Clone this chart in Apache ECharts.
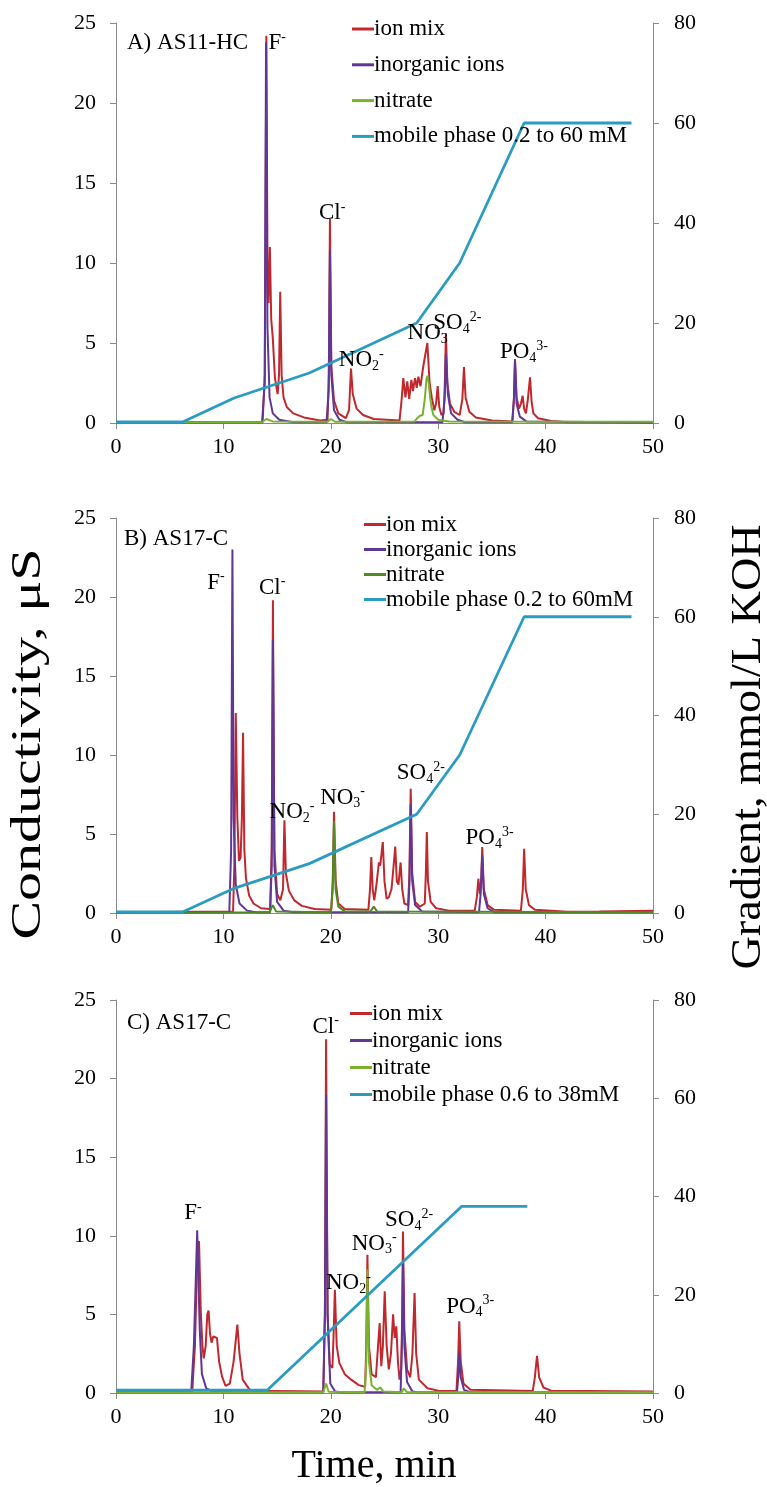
<!DOCTYPE html>
<html>
<head>
<meta charset="utf-8">
<script src="https://cdn.jsdelivr.net/npm/echarts@6/dist/echarts.min.js"></script>
<style>
  html, body { margin: 0; padding: 0; background: #fff; }
  #chart { width: 767px; height: 1487px; }
</style>
</head>
<body>
<div id="chart"></div>
<script>
// ---- panel A: AS11-HC ----
const ionMixA = [[0,0.05],[13.6,0.05],[13.85,2.5],[14.0,24.2],[14.12,8],[14.2,7.5],[14.33,11.0],[14.45,6.5],[14.6,5.3],[14.8,2.8],[15.05,1.8],[15.18,3],[15.29,8.2],[15.42,3],[15.6,1.6],[15.9,1.0],[16.5,0.6],[17.5,0.35],[19.0,0.15],[19.7,0.2],[19.82,3],[19.92,12.75],[20.05,3.5],[20.3,1.4],[20.7,0.6],[21.4,0.3],[21.7,0.8],[21.88,3.4],[22.05,1.8],[22.4,0.9],[23,0.5],[24,0.25],[26.4,0.15],[26.6,1.5],[26.75,2.8],[26.95,1.6],[27.12,2.6],[27.3,1.5],[27.5,2.7],[27.65,2.0],[27.84,2.8],[28.0,2.2],[28.15,2.9],[28.35,2.3],[28.6,3.5],[28.99,5.0],[29.2,2.5],[29.4,1.6],[29.64,0.8],[29.8,1.2],[29.95,2.3],[30.1,1.0],[30.3,0.5],[30.5,0.6],[30.6,2],[30.72,5.6],[30.85,2.5],[31.1,1.2],[31.5,0.7],[32.0,0.5],[32.25,1.5],[32.4,3.5],[32.55,1.6],[32.9,0.7],[33.5,0.35],[35,0.15],[36.9,0.1],[37.05,1.5],[37.15,4.0],[37.3,1.6],[37.52,0.9],[37.7,1.2],[37.86,1.7],[38.0,0.9],[38.17,0.6],[38.35,1.5],[38.55,2.86],[38.7,1.3],[38.86,0.6],[39.3,0.3],[40.5,0.12],[42,0.05],[50,0.05]];
const inorgA = [[0,0.03],[13.65,0.05],[13.85,3],[13.97,23.8],[14.1,6],[14.3,1.6],[14.6,0.6],[15.2,0.2],[16.5,0.05],[19.6,0.05],[19.8,2],[19.92,10.8],[20.05,3],[20.3,0.8],[20.8,0.2],[21.5,0.05],[30.4,0.05],[30.6,1.5],[30.72,4.3],[30.9,1.8],[31.2,0.6],[31.8,0.2],[32.5,0.05],[36.9,0.05],[37.05,1.5],[37.15,3.9],[37.3,1.2],[37.6,0.4],[38.2,0.1],[50,0.03]];
const nitrateA = [[0,0.05],[13.6,0.05],[14.0,0.25],[14.6,0.1],[19.7,0.08],[20.0,0.25],[20.4,0.08],[27.8,0.1],[28.05,0.3],[28.3,0.45],[28.55,0.5],[28.75,1.5],[28.9,2.7],[29.0,2.95],[29.12,2.5],[29.25,1.6],[29.4,0.9],[29.55,0.5],[30,0.2],[31,0.1],[50,0.08]];
const mobileA = [[0,0.2],[6.2,0.2],[11,5],[18,10],[28,20],[32,32],[38,60],[48,60]];
const peaksA = [[14.15,23.75,'F{sup|-}'],[18.85,13.1,'Cl{sup|-}'],[20.7,3.94,'NO{sub|2}{sup|-}'],[27.1,5.6,'NO{sub|3}{sup|-}'],[29.5,6.25,'SO{sub|4}{sup|2-}'],[35.7,4.44,'PO{sub|4}{sup|3-}']];

// ---- panel B: AS17-C ----
const ionMixB = [[0,0.05],[10.9,0.1],[11.02,3],[11.15,12.66],[11.3,6],[11.45,3.3],[11.6,3.5],[11.72,6],[11.83,11.4],[11.95,4],[12.1,2.2],[12.4,1.1],[12.8,0.6],[13.5,0.3],[14.35,0.25],[14.5,4],[14.61,19.8],[14.75,4],[15.0,1.2],[15.3,0.8],[15.55,1.5],[15.68,5.87],[15.82,2.5],[16.1,1.4],[16.6,0.8],[17.3,0.45],[18.5,0.25],[20.05,0.2],[20.18,2],[20.3,6.4],[20.45,2],[20.7,0.6],[21.3,0.25],[23.5,0.2],[23.65,1.5],[23.77,3.54],[23.9,1.5],[24.05,0.8],[24.25,1.8],[24.48,3.2],[24.6,3.0],[24.84,4.49],[25.0,2],[25.2,0.9],[25.4,1.0],[25.65,1.5],[25.85,3],[26.0,4.2],[26.15,2],[26.3,1.8],[26.5,3.2],[26.65,1.5],[26.85,0.6],[27.2,0.5],[27.32,2.5],[27.44,7.87],[27.58,2.5],[27.85,0.7],[28.3,0.4],[28.75,0.6],[28.85,2.5],[28.94,5.13],[29.05,2],[29.3,0.7],[29.8,0.3],[31,0.15],[33.4,0.15],[33.6,1],[33.74,2.17],[33.88,1.2],[34.0,2],[34.1,4.18],[34.25,1.5],[34.6,0.5],[35.2,0.2],[37.7,0.15],[37.88,1.5],[38.0,4.07],[38.15,1.5],[38.45,0.5],[39,0.2],[42,0.08],[45,0.1],[50,0.15]];
const inorgB = [[0,0.03],[10.55,0.05],[10.72,4],[10.84,23.0],[10.95,6],[11.15,1.8],[11.5,0.6],[12.2,0.15],[13,0.05],[14.35,0.05],[14.5,3],[14.61,17.3],[14.75,3],[15.0,0.7],[15.6,0.15],[16.5,0.05],[27.2,0.05],[27.33,2],[27.44,6.9],[27.58,2],[27.85,0.5],[28.5,0.1],[33.8,0.05],[33.95,1.2],[34.1,3.65],[34.25,1.2],[34.6,0.3],[35.2,0.05],[50,0.05]];
const nitrateB = [[0,0.03],[14.3,0.05],[14.6,0.5],[14.9,0.1],[20.0,0.05],[20.18,1.5],[20.3,5.8],[20.45,1.5],[20.7,0.4],[21.3,0.1],[23.7,0.1],[24.0,0.4],[24.3,0.1],[50,0.05]];
const mobileB = [[0,0.2],[6.2,0.2],[11,5],[18,10],[28,20],[32,32],[38,60],[48,60]];
const peaksB = [[8.45,20.9,'F{sup|-}'],[13.26,20.6,'Cl{sup|-}'],[14.25,6.4,'NO{sub|2}{sup|-}'],[18.96,7.3,'NO{sub|3}{sup|-}'],[26.1,8.86,'SO{sub|4}{sup|2-}'],[32.5,4.75,'PO{sub|4}{sup|3-}']];

// ---- panel C: AS17-C ----
const ionMixC = [[0,0.1],[7.1,0.1],[7.35,3],[7.6,9.5],[7.73,9.65],[7.9,5],[8.05,3],[8.17,2.2],[8.35,3],[8.5,5],[8.62,5.24],[8.75,3.8],[8.9,3.2],[9.05,3.6],[9.2,3.6],[9.4,3.5],[9.6,2],[9.87,1.06],[10.2,0.45],[10.6,0.6],[10.95,2],[11.3,4.35],[11.5,2.5],[11.8,0.85],[12.5,0.15],[19.3,0.1],[19.45,5],[19.56,22.5],[19.7,5],[19.9,1.8],[20.15,1.6],[20.25,3.5],[20.38,6.57],[20.55,3],[20.8,1.9],[21.3,1.2],[21.9,0.85],[22.6,0.5],[23.2,0.4],[23.3,3],[23.41,8.8],[23.55,3],[23.8,1.2],[24.2,1],[24.4,3],[24.55,4.45],[24.7,1.7],[24.85,3],[25.02,6.47],[25.2,3],[25.4,1.5],[25.6,2.5],[25.8,5.0],[25.95,3.5],[26.1,4.24],[26.25,2],[26.4,0.85],[26.55,1.5],[26.65,5],[26.72,10.28],[26.85,4],[27.1,1.5],[27.4,1.0],[27.6,2.5],[27.8,6.36],[27.95,2.5],[28.2,0.85],[29,0.3],[30,0.15],[31.7,0.12],[31.85,2],[31.96,4.56],[32.1,2],[32.35,0.6],[33,0.2],[38.8,0.12],[39.0,1],[39.2,2.37],[39.4,1.0],[39.8,0.35],[40.5,0.15],[50,0.1]];
const inorgC = [[0,0.05],[7.0,0.05],[7.25,3],[7.56,10.35],[7.8,4],[8.0,1.2],[8.4,0.3],[9,0.1],[10,0.05],[19.3,0.05],[19.45,5],[19.56,19.0],[19.7,5],[19.95,0.6],[20.4,0.1],[21,0.05],[26.5,0.05],[26.62,3],[26.72,8.27],[26.85,3],[27.1,0.7],[27.6,0.1],[28,0.05],[31.75,0.05],[31.87,1],[31.96,2.65],[32.1,1],[32.4,0.2],[33,0.05],[50,0.05]];
const nitrateC = [[0,0.05],[19.3,0.05],[19.56,0.6],[19.8,0.08],[23.15,0.05],[23.3,2],[23.41,7.85],[23.55,2],[23.8,0.5],[24.3,0.2],[24.6,0.35],[24.9,0.1],[26.6,0.05],[26.8,0.3],[27.1,0.05],[50,0.05]];
const mobileC = [[0,0.6],[14.1,0.6],[32.2,38],[38.3,38]];
const peaksC = [[6.3,11.45,'F{sup|-}'],[18.25,23.3,'Cl{sup|-}'],[19.5,7.0,'NO{sub|2}{sup|-}'],[21.9,9.5,'NO{sub|3}{sup|-}'],[25.0,11.0,'SO{sub|4}{sup|2-}'],[30.7,5.5,'PO{sub|4}{sup|3-}']];

const panelTitles = ['A) AS11-HC', 'B) AS17-C', 'C) AS17-C'];
const mobileNames = ['mobile phase 0.2 to 60 mM', 'mobile phase 0.2 to 60mM', 'mobile phase 0.6 to 38mM'];

const SERIF = '"Liberation Serif", "Times New Roman", serif';
const AXIS_GREY = '#8a8a8a';
const RED = '#c0282d', PURPLE = '#5f3795', BLUE = '#2b9cc1';
const GREENS = ['#79b131', '#4f8a22', '#79b131'];

const panels = [
  { ion: ionMixA, inorg: inorgA, nit: nitrateA, mob: mobileA, peaks: peaksA, top: 23, h: 400, legLeft: 352, legTop: 17.5, legGap: 12.8, titleTop: 31 },
  { ion: ionMixB, inorg: inorgB, nit: nitrateB, mob: mobileB, peaks: peaksB, top: 518, h: 395, legLeft: 364, legTop: 513, legGap: 2, titleTop: 527 },
  { ion: ionMixC, inorg: inorgC, nit: nitrateC, mob: mobileC, peaks: peaksC, top: 1000, h: 393, legLeft: 350, legTop: 1002, legGap: 4, titleTop: 1011 }
];

const chart = echarts.init(document.getElementById('chart'), null, { renderer: 'canvas' });

const grid = [], xAxis = [], yAxis = [], series = [], legend = [], graphic = [];

panels.forEach((p, i) => {
  grid.push({ left: 116, width: 537, top: p.top, height: p.h });
  xAxis.push({
    type: 'value', gridIndex: i, min: 0, max: 50, interval: 10,
    axisLine: { show: true, onZero: false, lineStyle: { color: AXIS_GREY, width: 1 } },
    axisTick: { show: true, length: 6, lineStyle: { color: AXIS_GREY } },
    axisLabel: { fontFamily: SERIF, fontSize: 22, color: '#000', margin: 13 },
    splitLine: { show: false }
  });
  yAxis.push({
    type: 'value', gridIndex: i, min: 0, max: 25, interval: 5, position: 'left',
    axisLine: { show: true, lineStyle: { color: AXIS_GREY, width: 1 } },
    axisTick: { show: true, length: 6, lineStyle: { color: AXIS_GREY } },
    axisLabel: { fontFamily: SERIF, fontSize: 22, color: '#000', margin: 20 },
    splitLine: { show: false }
  });
  yAxis.push({
    type: 'value', gridIndex: i, min: 0, max: 80, interval: 20, position: 'right',
    axisLine: { show: true, lineStyle: { color: AXIS_GREY, width: 1 } },
    axisTick: { show: true, length: 6, lineStyle: { color: AXIS_GREY } },
    axisLabel: { fontFamily: SERIF, fontSize: 22, color: '#000', margin: 21 },
    splitLine: { show: false }
  });

  const line = (name, data, color, width, yIdx) => ({
    type: 'line', name, data, xAxisIndex: i, yAxisIndex: yIdx,
    showSymbol: false, symbol: 'none', smooth: false,
    lineStyle: { color, width }, itemStyle: { color }, z: 2
  });
  series.push(line('ion mix', p.ion, RED, 2, i * 2));
  series.push(line('inorganic ions', p.inorg, PURPLE, 2, i * 2));
  series.push(line('nitrate', p.nit, GREENS[i], 2, i * 2));
  series.push(line(mobileNames[i], p.mob, BLUE, 2.8, i * 2 + 1));

  // peak labels
  series.push({
    type: 'scatter', xAxisIndex: i, yAxisIndex: i * 2, data: p.peaks,
    symbolSize: 1, itemStyle: { color: 'rgba(0,0,0,0)' }, silent: true, z: 5,
    label: {
      show: true, position: 'right', distance: 0, opacity: 1,
      formatter: prm => prm.data[2],
      fontFamily: SERIF, fontSize: 23, color: '#000', lineHeight: 26,
      rich: {
        sub: { fontFamily: SERIF, fontSize: 14, color: '#000', verticalAlign: 'bottom', lineHeight: 26 },
        sup: { fontFamily: SERIF, fontSize: 14, color: '#000', verticalAlign: 'top', lineHeight: 26 }
      }
    }
  });

  legend.push({
    orient: 'vertical', left: p.legLeft, top: p.legTop, padding: 0,
    itemGap: p.legGap, itemWidth: 22, itemHeight: 3, icon: 'rect',
    selectedMode: false,
    textStyle: { fontFamily: SERIF, fontSize: 23, color: '#000', padding: [0, 0, 0, -5] },
    data: [
      { name: 'ion mix', itemStyle: { color: RED } },
      { name: 'inorganic ions', itemStyle: { color: PURPLE } },
      { name: 'nitrate', itemStyle: { color: GREENS[i] } },
      { name: mobileNames[i], itemStyle: { color: BLUE } }
    ]
  });

  graphic.push({
    type: 'text', left: i === 1 ? 124 : 127, top: p.titleTop,
    style: { text: panelTitles[i], font: '23px ' + SERIF, fill: '#000' }
  });
});

// axis titles (stretched along their length like the original figure)
graphic.push({
  type: 'text', x: 29, y: 744, rotation: Math.PI / 2, scaleX: 1.38,
  style: { text: 'Conductivity, μS', font: '42px ' + SERIF, fill: '#000', textAlign: 'center', textVerticalAlign: 'middle' }
});
graphic.push({
  type: 'text', x: 749, y: 747, rotation: Math.PI / 2, scaleX: 1.1,
  style: { text: 'Gradient, mmol/L KOH', font: '42px ' + SERIF, fill: '#000', textAlign: 'center', textVerticalAlign: 'middle' }
});
graphic.push({
  type: 'text', x: 374, y: 1466,
  style: { text: 'Time, min', font: '40px ' + SERIF, fill: '#000', textAlign: 'center', textVerticalAlign: 'middle' }
});

chart.setOption({
  animation: false,
  backgroundColor: '#fff',
  grid, xAxis, yAxis, series, legend, graphic
});
</script>
</body>
</html>
